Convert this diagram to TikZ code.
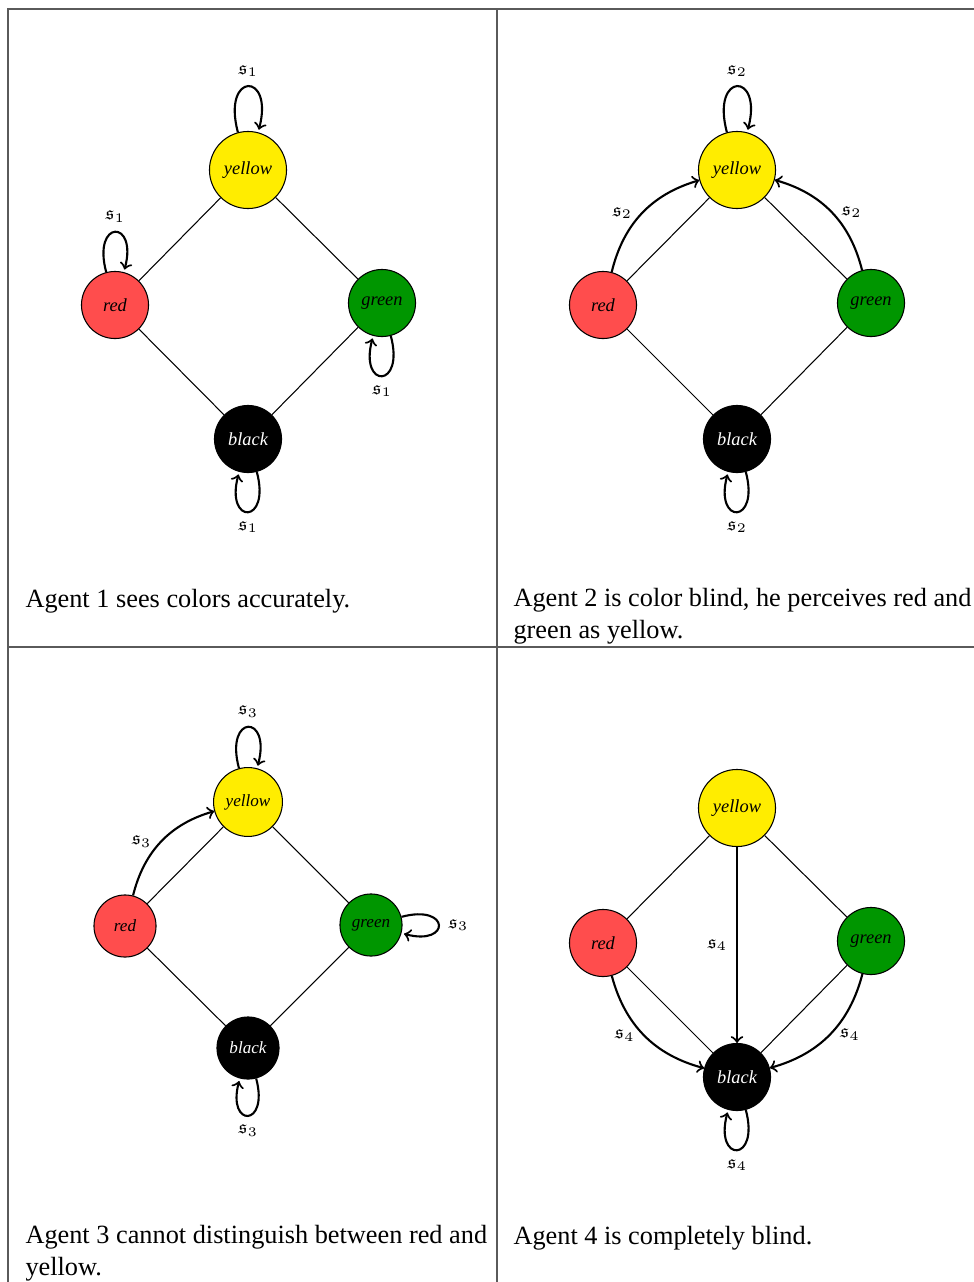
\documentclass[tikz,border=0pt]{standalone}
\usepackage{amssymb}
\usepackage{fontspec}
\setmainfont{Liberation Serif}
\definecolor{cy}{RGB}{255,237,0}
\definecolor{cr}{RGB}{255,77,77}
\definecolor{cg}{RGB}{0,150,0}
\definecolor{grid}{RGB}{90,90,90}
\begin{document}
\begin{tikzpicture}[x=0.3802pt,y=-0.3802pt,
  st/.style={circle,draw=black,line width=0.4pt,inner sep=0pt,font=\scriptsize\itshape},
  big/.style={st,minimum size=29.3pt},
  sml/.style={st,minimum size=25.5pt},
  big3/.style={st,minimum size=26.2pt,font=\fontsize{6.5}{7.5}\selectfont\itshape},
  sml3/.style={st,minimum size=23.6pt,font=\fontsize{6.5}{7.5}\selectfont\itshape},
  ny/.style={fill=cy},
  nr/.style={fill=cr},
  ng/.style={fill=cg},
  nb/.style={fill=black,text=white},
  ln/.style={line width=0.4pt},
  arr/.style={->,line width=0.8pt},
  lab/.style={font=\scriptsize},
  loopdown/.style={out=-75,in=-105,loop,below},
  tab/.style={draw=grid,line width=0.5pt},
  captxt/.style={anchor=base west,align=left,inner sep=0pt,font=\normalsize}]
\useasboundingbox (0,0) rectangle (974,1282);
% table rules
\coordinate (t1) at (8,9); \coordinate (t2) at (975,9);
\coordinate (t3) at (8,1283); \coordinate (t4) at (497,9);
\coordinate (t5) at (497,1283); \coordinate (t6) at (8,647);
\coordinate (t7) at (975,647);
\draw[tab] (t3) -- (t1) -- (t2);
\draw[tab] (t4) -- (t5);
\draw[tab] (t6) -- (t7);

% ---------- Agent 1 ----------
\node[big,ny] (y1) at (248,170) {yellow};
\node[sml,nr] (r1) at (115,305) {red};
\node[sml,ng] (g1) at (382,303) {green};
\node[sml,nb] (b1) at (248,439) {black};
\draw[ln] (y1) -- (r1) (y1) -- (g1) (r1) -- (b1) (g1) -- (b1);
\path (y1) edge[arr,loop above] node[lab] {$\mathfrak{s}_1$} (y1);
\path (r1) edge[arr,loop above] node[lab] {$\mathfrak{s}_1$} (r1);
\path (g1) edge[arr,loopdown] node[lab] {$\mathfrak{s}_1$} (g1);
\path (b1) edge[arr,loopdown] node[lab] {$\mathfrak{s}_1$} (b1);
\node[captxt] (c1) at (25,607) {Agent 1 sees colors accurately.};

% ---------- Agent 2 ----------
\node[big,ny] (y2) at (737,170) {yellow};
\node[sml,nr] (r2) at (603,305) {red};
\node[sml,ng] (g2) at (871,303) {green};
\node[sml,nb] (b2) at (737,439) {black};
\draw[ln] (y2) -- (r2) (y2) -- (g2) (r2) -- (b2) (g2) -- (b2);
\path (y2) edge[arr,loop above] node[lab] {$\mathfrak{s}_2$} (y2);
\path (b2) edge[arr,loopdown] node[lab] {$\mathfrak{s}_2$} (b2);
\path (r2) edge[arr,bend left] node[lab,left] {$\mathfrak{s}_2$} (y2);
\path (g2) edge[arr,bend right] node[lab,right] {$\mathfrak{s}_2$} (y2);
\node[captxt] (c2) at (513,638) {Agent 2 is color blind, he perceives red and\\green as yellow.};

% ---------- Agent 3 ----------
\node[big3,ny] (y3) at (248,802) {yellow};
\node[sml3,nr] (r3) at (125,926) {red};
\node[sml3,ng] (g3) at (371,925) {green};
\node[sml3,nb] (b3) at (248,1048) {black};
\draw[ln] (y3) -- (r3) (y3) -- (g3) (r3) -- (b3) (g3) -- (b3);
\path (y3) edge[arr,loop above] node[lab] {$\mathfrak{s}_3$} (y3);
\path (g3) edge[arr,loop right] node[lab] {$\mathfrak{s}_3$} (g3);
\path (b3) edge[arr,loopdown] node[lab] {$\mathfrak{s}_3$} (b3);
\path (r3) edge[arr,bend left] node[lab,left] {$\mathfrak{s}_3$} (y3);
\node[captxt] (c3) at (25,1275) {Agent 3 cannot distinguish between red and\\yellow.};

% ---------- Agent 4 ----------
\node[big,ny] (y4) at (737,808) {yellow};
\node[sml,nr] (r4) at (603,943) {red};
\node[sml,ng] (g4) at (871,941) {green};
\node[sml,nb] (b4) at (737,1077) {black};
\draw[ln] (y4) -- (r4) (y4) -- (g4) (r4) -- (b4) (g4) -- (b4);
\path (y4) edge[arr] node[lab,left] {$\mathfrak{s}_4$} (b4);
\path (r4) edge[arr,bend right] node[lab,left] {$\mathfrak{s}_4$} (b4);
\path (g4) edge[arr,bend left] node[lab,right] {$\mathfrak{s}_4$} (b4);
\path (b4) edge[arr,loopdown] node[lab] {$\mathfrak{s}_4$} (b4);
\node[captxt] (c4) at (513,1244) {Agent 4 is completely blind.};
\end{tikzpicture}
\end{document}
